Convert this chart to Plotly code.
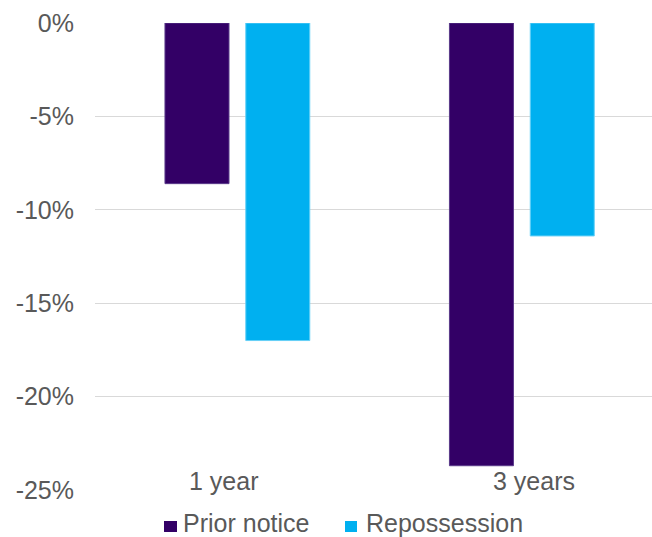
import plotly.graph_objects as go

categories = ["1 year", "3 years"]
series_names = ["Prior notice", "Repossession"]
series_colors = ["#330066", "#00B0F0"]
prior_notice = [-8.6, -23.7]
repossession = [-17.0, -11.4]
y_ticks = [0, -5, -10, -15, -20, -25]
y_tick_labels = ["0%", "-5%", "-10%", "-15%", "-20%", "-25%"]

FONT = "Liberation Sans, Arial, sans-serif"
GREY = "#595959"

fig = go.Figure()
fig.add_trace(go.Bar(
    x=[0, 1], y=prior_notice, name=series_names[0],
    width=0.225, offset=-0.254,
    marker=dict(color=series_colors[0], line=dict(color="#5a3a8a", width=1)),
))
fig.add_trace(go.Bar(
    x=[0, 1], y=repossession, name=series_names[1],
    width=0.225, offset=0.03,
    marker=dict(color=series_colors[1], line=dict(color="#66d0f7", width=1)),
))

for i, c in enumerate(categories):
    fig.add_annotation(
        x=i, y=-25, xref="x", yref="y", text=c, showarrow=False,
        yanchor="middle", yshift=9, xshift=(-14 if i == 0 else 12),
        font=dict(family=FONT, size=25, color=GREY),
    )

# legend drawn manually (square + label) to match the reference spacing
legend_sq_x = [(0.1239, 0.1472), (0.4488, 0.4704)]
legend_txt_x = [0.1562, 0.4847]
for k in range(2):
    fig.add_shape(
        type="rect", xref="paper", yref="paper",
        x0=legend_sq_x[k][0], x1=legend_sq_x[k][1], y0=-0.0899, y1=-0.0664,
        fillcolor=series_colors[k], line=dict(width=0),
    )
    fig.add_annotation(
        x=legend_txt_x[k], y=-0.071, xref="paper", yref="paper",
        text=series_names[k], showarrow=False, xanchor="left", yanchor="middle",
        font=dict(family=FONT, size=25, color=GREY), borderpad=0,
    )

fig.update_layout(
    width=652, height=537,
    margin=dict(l=95, r=0, t=23, b=47, autoexpand=False),
    paper_bgcolor="white", plot_bgcolor="white",
    barmode="overlay",
    font=dict(family=FONT, size=25, color=GREY),
    showlegend=False,
    xaxis=dict(
        range=[-0.5, 1.458], showticklabels=False, showgrid=False,
        zeroline=False, showline=False, fixedrange=True,
    ),
    yaxis=dict(
        range=[-25, 0], tickvals=y_ticks, ticktext=y_tick_labels,
        showgrid=True, gridcolor="#d9d9d9", gridwidth=1,
        zeroline=False, showline=False, ticks="",
        ticklabelstandoff=20,
        tickfont=dict(family=FONT, size=25, color=GREY),
    ),
)

fig.write_html("out.html")
